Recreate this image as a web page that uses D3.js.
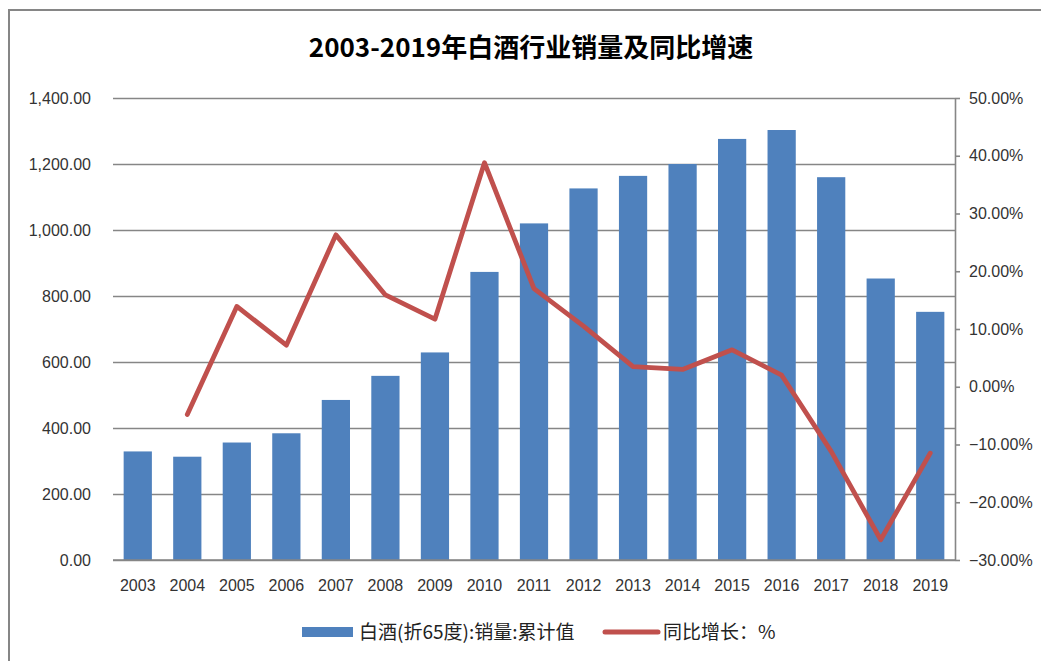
<!DOCTYPE html>
<html>
<head>
<meta charset="utf-8">
<script src="https://cdn.jsdelivr.net/npm/d3@7"></script>
<style>
  html, body { margin: 0; padding: 0; background: #fff; }
  svg { display: block; }
</style>
</head>
<body>
<svg id="chart" width="1041" height="661"></svg>
<script>
// ---- data ----
const years = ["2003","2004","2005","2006","2007","2008","2009","2010","2011","2012","2013","2014","2015","2016","2017","2018","2019"];
const sales = [329, 313, 356, 384, 485, 558, 629, 873, 1020, 1126, 1164, 1200, 1276, 1303, 1160, 853, 752];
const growth = [null, -4.8, 13.9, 7.2, 26.3, 15.9, 11.7, 38.8, 17.0, 10.5, 3.5, 3.0, 6.4, 2.0, -11.2, -26.5, -11.5];
const leftTicks = [0, 200, 400, 600, 800, 1000, 1200, 1400];
const rightTicks = [-30, -20, -10, 0, 10, 20, 30, 40, 50];
const titleText = "2003-2019年白酒行业销量及同比增速";
const seriesNames = ["白酒(折65度):销量:累计值", "同比增长：%"];

// ---- layout ----
const svg = d3.select("#chart");
const plotL = 113, plotR = 955, plotT = 98, plotB = 560;
const gridColor = "#868686";
const barColor = "#4F81BD";
const lineColor = "#C0504D";
const tickFont = "'Liberation Sans', Arial, sans-serif";
const cjkFont = "'Noto Sans CJK SC', sans-serif";

// frame
svg.append("rect").attr("x", 9).attr("y", 10).attr("width", 1100).attr("height", 700)
  .attr("fill", "none").attr("stroke", gridColor).attr("stroke-width", 2);

// title
svg.append("text").attr("x", 531).attr("y", 57).attr("text-anchor", "middle")
  .attr("font-family", cjkFont).attr("font-weight", "bold").attr("font-size", 26)
  .attr("fill", "#000").text(titleText);

const x = d3.scaleBand().domain(years).range([plotL, plotR]).paddingInner(0.43).paddingOuter(0.215);
const yL = d3.scaleLinear().domain([0, 1400]).range([plotB, plotT]);
const yR = d3.scaleLinear().domain([-30, 50]).range([plotB, plotT]);

// left axis with gridlines
const gL = svg.append("g").attr("transform", `translate(${plotL},0)`)
  .call(d3.axisLeft(yL).tickValues(leftTicks).tickSize(-(plotR - plotL)).tickPadding(22)
    .tickFormat(d3.format(",.2f")));
gL.select(".domain").remove();
gL.selectAll(".tick line").attr("stroke", gridColor).attr("stroke-width", 1.6);
gL.selectAll(".tick text").attr("font-family", tickFont).attr("font-size", 16).attr("fill", "#333");

// bars
svg.append("g").selectAll("rect").data(years).join("rect")
  .attr("x", d => x(d)).attr("width", x.bandwidth())
  .attr("y", (d, i) => yL(sales[i])).attr("height", (d, i) => yL(0) - yL(sales[i]))
  .attr("fill", barColor);

// baseline redraw above bars
svg.append("line").attr("x1", plotL).attr("x2", plotR).attr("y1", yL(0)).attr("y2", yL(0))
  .attr("stroke", gridColor).attr("stroke-width", 1.6);

// right axis
const gR = svg.append("g").attr("transform", `translate(${plotR},0)`)
  .call(d3.axisRight(yR).tickValues(rightTicks).tickSize(5).tickSizeOuter(0).tickPadding(9)
    .tickFormat(d => d3.format(".2f")(d) + "%"));
gR.select(".domain").attr("stroke", gridColor).attr("stroke-width", 1.6);
gR.selectAll(".tick line").attr("stroke", gridColor).attr("stroke-width", 1.6);
gR.selectAll(".tick text").attr("font-family", tickFont).attr("font-size", 16).attr("fill", "#333");

// x axis labels
const gX = svg.append("g").attr("transform", `translate(0,${plotB})`)
  .call(d3.axisBottom(x).tickSize(0).tickPadding(20));
gX.select(".domain").remove();
gX.selectAll(".tick text").attr("font-family", tickFont).attr("font-size", 16).attr("fill", "#333");

// growth line
const line = d3.line()
  .defined(d => d[1] !== null)
  .x(d => x(d[0]) + x.bandwidth() / 2)
  .y(d => yR(d[1]));
svg.append("path").datum(years.map((y, i) => [y, growth[i]]))
  .attr("d", line).attr("fill", "none").attr("stroke", lineColor)
  .attr("stroke-width", 4.8).attr("stroke-linejoin", "round").attr("stroke-linecap", "round");

// legend
const lg = svg.append("g");
lg.append("rect").attr("x", 302).attr("y", 627).attr("width", 51).attr("height", 10).attr("fill", barColor);
lg.append("text").attr("x", 359).attr("y", 639).attr("font-family", cjkFont).attr("font-size", 19)
  .attr("fill", "#222").text(seriesNames[0]);
lg.append("line").attr("x1", 605).attr("x2", 658).attr("y1", 632).attr("y2", 632)
  .attr("stroke", lineColor).attr("stroke-width", 5).attr("stroke-linecap", "round");
lg.append("text").attr("x", 663).attr("y", 639).attr("font-family", cjkFont).attr("font-size", 19)
  .attr("fill", "#222").text(seriesNames[1]);
</script>
</body>
</html>
